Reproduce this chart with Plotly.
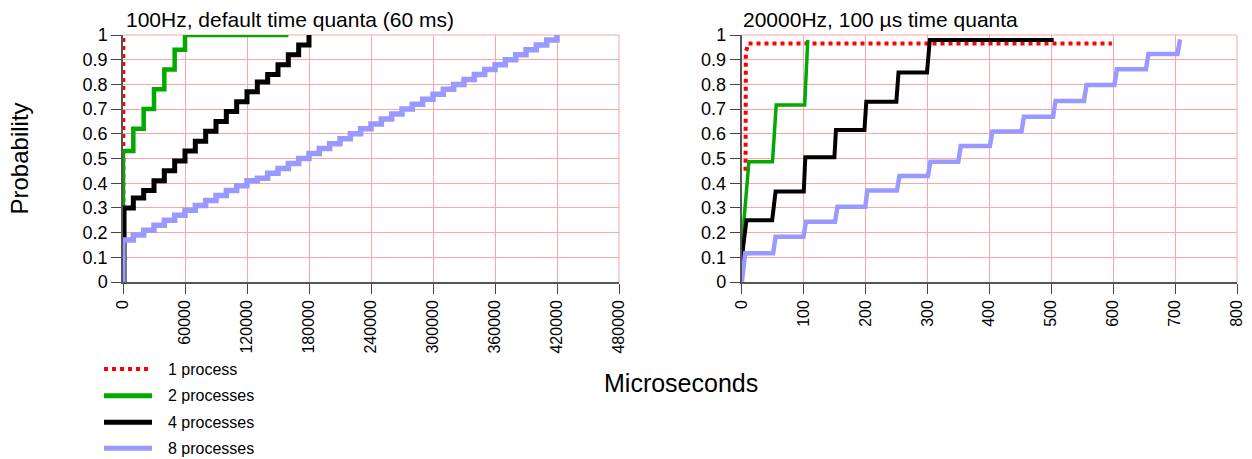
import plotly.graph_objects as go

W, H = 1252, 459

SERIES = ["1 process", "2 processes", "4 processes", "8 processes"]

# ---- 100Hz panel (x in microseconds), step CDFs ----
HZ100_P1_X = [300, 300]
HZ100_P1_Y = [0.0, 1.0]
HZ100_P2_X = [0, 0, 10000, 20000, 30000, 40000, 50000, 60000, 160000]
HZ100_P2_Y = [0.0, 0.53, 0.62, 0.70, 0.78, 0.86, 0.94, 1.0, 1.0]
HZ100_P4_X = [1000, 1000, 10000, 20000, 30000, 40000, 50000, 60000, 70000, 80000,
              90000, 100000, 110000, 120000, 130000, 140000, 150000, 160000,
              170000, 180000]
HZ100_P4_Y = [0.0, 0.30, 0.34, 0.37, 0.41, 0.45, 0.49, 0.53, 0.57, 0.61,
              0.65, 0.69, 0.73, 0.77, 0.81, 0.84, 0.88, 0.92, 0.96, 1.0]
HZ100_P8_X = [0, 0, 10000, 20000, 30000, 40000, 50000, 60000, 70000, 80000,
              90000, 100000, 110000, 120000, 130000, 140000, 150000, 160000,
              170000, 180000, 190000, 200000, 210000, 220000, 230000, 240000,
              250000, 260000, 270000, 280000, 290000, 300000, 310000, 320000,
              330000, 340000, 350000, 360000, 370000, 380000, 390000, 400000,
              410000, 420000]
HZ100_P8_Y = [0.0, 0.17, 0.19, 0.21, 0.23, 0.25, 0.27, 0.29, 0.31, 0.33,
              0.35, 0.37, 0.39, 0.41, 0.42, 0.44, 0.46, 0.48, 0.50, 0.52,
              0.54, 0.56, 0.58, 0.60, 0.62, 0.64, 0.66, 0.68, 0.70, 0.72,
              0.74, 0.76, 0.78, 0.80, 0.82, 0.84, 0.86, 0.88, 0.90, 0.92,
              0.94, 0.96, 0.98, 1.0]

# ---- 20000Hz panel (x in microseconds) ----
HZ20K_P1_X = [6.5, 6.5, 7, 11, 598]
HZ20K_P1_Y = [0.45, 0.49, 0.93, 0.966, 0.966]
HZ20K_P2_X = [1, 4, 12, 50, 53, 56, 102, 104, 107]
HZ20K_P2_Y = [0.0, 0.25, 0.487, 0.487, 0.60, 0.717, 0.717, 0.85, 0.98]
HZ20K_P4_X = [0, 1, 8, 49.5, 55, 100.5, 103, 150, 152.5, 198.5, 201.5,
              250, 253.5, 299.5, 304, 504]
HZ20K_P4_Y = [0.0, 0.11, 0.25, 0.25, 0.366, 0.366, 0.505, 0.505, 0.615,
              0.615, 0.73, 0.73, 0.848, 0.848, 0.98, 0.98]
HZ20K_P8_X = [0.5, 6, 51, 55, 100, 104, 151, 155, 200, 203, 251, 255, 301, 305,
              350, 354, 401, 405, 452, 456, 503, 507, 553, 557, 602, 606, 653,
              657, 704, 708]
HZ20K_P8_Y = [0.0, 0.116, 0.116, 0.183, 0.183, 0.244, 0.244, 0.305, 0.305,
              0.37, 0.37, 0.429, 0.429, 0.487, 0.487, 0.551, 0.551, 0.609,
              0.609, 0.669, 0.669, 0.733, 0.733, 0.798, 0.798, 0.861, 0.861,
              0.923, 0.923, 0.982]

X100_TICKS = [0, 60000, 120000, 180000, 240000, 300000, 360000, 420000, 480000]
X20K_TICKS = [0, 100, 200, 300, 400, 500, 600, 700, 800]
Y_TICKS = [0, 0.1, 0.2, 0.3, 0.4, 0.5, 0.6, 0.7, 0.8, 0.9, 1.0]
Y_TICKTEXT = ["0", "0.1", "0.2", "0.3", "0.4", "0.5", "0.6", "0.7", "0.8", "0.9", "1"]

TITLE_LEFT = "100Hz, default time quanta (60 ms)"
TITLE_RIGHT = "20000Hz, 100 µs time quanta"
XLABEL = "Microseconds"
YLABEL = "Probability"

FONT = "Liberation Sans, Arial, Helvetica, sans-serif"
COLORS = {"1 process": "#FF0000", "2 processes": "#00AA00",
          "4 processes": "#000000", "8 processes": "#9999FF"}
DASH = {"1 process": "dot", "2 processes": "solid",
        "4 processes": "solid", "8 processes": "solid"}
WIDTH_L = {"1 process": 4, "2 processes": 4.5, "4 processes": 5, "8 processes": 5.5}
WIDTH_R = {"1 process": 4, "2 processes": 3.5, "4 processes": 4, "8 processes": 4.5}

left = {"1 process": (HZ100_P1_X, HZ100_P1_Y), "2 processes": (HZ100_P2_X, HZ100_P2_Y),
        "4 processes": (HZ100_P4_X, HZ100_P4_Y), "8 processes": (HZ100_P8_X, HZ100_P8_Y)}
right = {"1 process": (HZ20K_P1_X, HZ20K_P1_Y), "2 processes": (HZ20K_P2_X, HZ20K_P2_Y),
         "4 processes": (HZ20K_P4_X, HZ20K_P4_Y), "8 processes": (HZ20K_P8_X, HZ20K_P8_Y)}

fig = go.Figure()
for name in SERIES:
    x, y = left[name]
    fig.add_trace(go.Scatter(x=x, y=y, mode="lines", name=name, showlegend=False,
                             line=dict(color=COLORS[name], width=WIDTH_L[name],
                                       dash=DASH[name], shape="hv"),
                             xaxis="x", yaxis="y"))
for name in SERIES:
    x, y = right[name]
    fig.add_trace(go.Scatter(x=x, y=y, mode="lines", name=name, showlegend=False,
                             line=dict(color=COLORS[name], width=WIDTH_R[name],
                                       dash=DASH[name]),
                             xaxis="x2", yaxis="y2"))

GRID = "rgb(255,165,165)"
common = dict(showline=True, linecolor="#555555", linewidth=1.5, ticks="outside",
              ticklen=10, tickcolor="#444444", tickwidth=1, showgrid=True,
              gridcolor=GRID, gridwidth=1, zeroline=False, automargin=False,
              tickfont=dict(family=FONT, size=16, color="black"))

xd1 = [123 / W, 619 / W]
xd2 = [741.5 / W, 1237 / W]
yd = [1 - 282 / H, 1 - 35 / H]

fig.update_layout(
    width=W, height=H, margin=dict(l=0, r=0, t=0, b=0, pad=0, autoexpand=False),
    paper_bgcolor="white", plot_bgcolor="white",
    font=dict(family=FONT, color="black"),
    showlegend=False,
    xaxis=dict(domain=xd1, range=[0, 480000], tickvals=X100_TICKS,
               ticktext=[str(v) for v in X100_TICKS], tickangle=-90,
               anchor="y", **common),
    yaxis=dict(domain=yd, range=[0, 1], tickvals=Y_TICKS, ticktext=Y_TICKTEXT,
               anchor="x", **common),
    xaxis2=dict(domain=xd2, range=[0, 800], tickvals=X20K_TICKS,
                ticktext=[str(v) for v in X20K_TICKS], tickangle=-90,
                anchor="y2", **common),
    yaxis2=dict(domain=yd, range=[0, 1], tickvals=Y_TICKS, ticktext=Y_TICKTEXT,
                anchor="x2", **common),
)
fig.update_yaxes(tickfont=dict(family=FONT, size=18, color="black"))

# top/right frame lines in grid colour
for xr, yr in (("x domain", "y domain"), ("x2 domain", "y2 domain")):
    fig.add_shape(type="line", xref=xr, yref=yr, x0=0, x1=1, y0=1, y1=1,
                  line=dict(color=GRID, width=1), layer="below")
    fig.add_shape(type="line", xref=xr, yref=yr, x0=1, x1=1, y0=0, y1=1,
                  line=dict(color=GRID, width=1), layer="below")

# panel titles
fig.add_annotation(text=TITLE_LEFT, xref="paper", yref="paper", x=124 / W, y=1 - 19 / H,
                   xanchor="left", yanchor="middle", showarrow=False,
                   font=dict(family=FONT, size=21, color="black"))
fig.add_annotation(text=TITLE_RIGHT, xref="paper", yref="paper", x=741 / W, y=1 - 19 / H,
                   xanchor="left", yanchor="middle", showarrow=False,
                   font=dict(family=FONT, size=21, color="black"))
# axis titles
fig.add_annotation(text=YLABEL, xref="paper", yref="paper", x=19 / W, y=1 - 158.5 / H,
                   xanchor="center", yanchor="middle", textangle=-90, showarrow=False,
                   font=dict(family=FONT, size=24, color="black"))
fig.add_annotation(text=XLABEL, xref="paper", yref="paper", x=681 / W, y=1 - 383 / H,
                   xanchor="center", yanchor="middle", showarrow=False,
                   font=dict(family=FONT, size=25, color="black"))

# legend (bottom-left)
ROW_Y = [369, 395.7, 422.3, 448.3]
for name, ry in zip(SERIES, ROW_Y):
    fig.add_shape(type="line", xref="paper", yref="paper",
                  x0=104 / W, x1=152 / W, y0=1 - ry / H, y1=1 - ry / H,
                  line=dict(color=COLORS[name], width=5 if name != "1 process" else 4,
                            dash=DASH[name]))
    fig.add_annotation(text=name, xref="paper", yref="paper", x=166 / W, y=1 - ry / H,
                       xanchor="left", yanchor="middle", showarrow=False,
                       font=dict(family=FONT, size=16, color="black"))

fig.write_html("out.html", config={"displayModeBar": False},
               post_script="document.body.style.margin='0';document.body.style.overflow='hidden';")
